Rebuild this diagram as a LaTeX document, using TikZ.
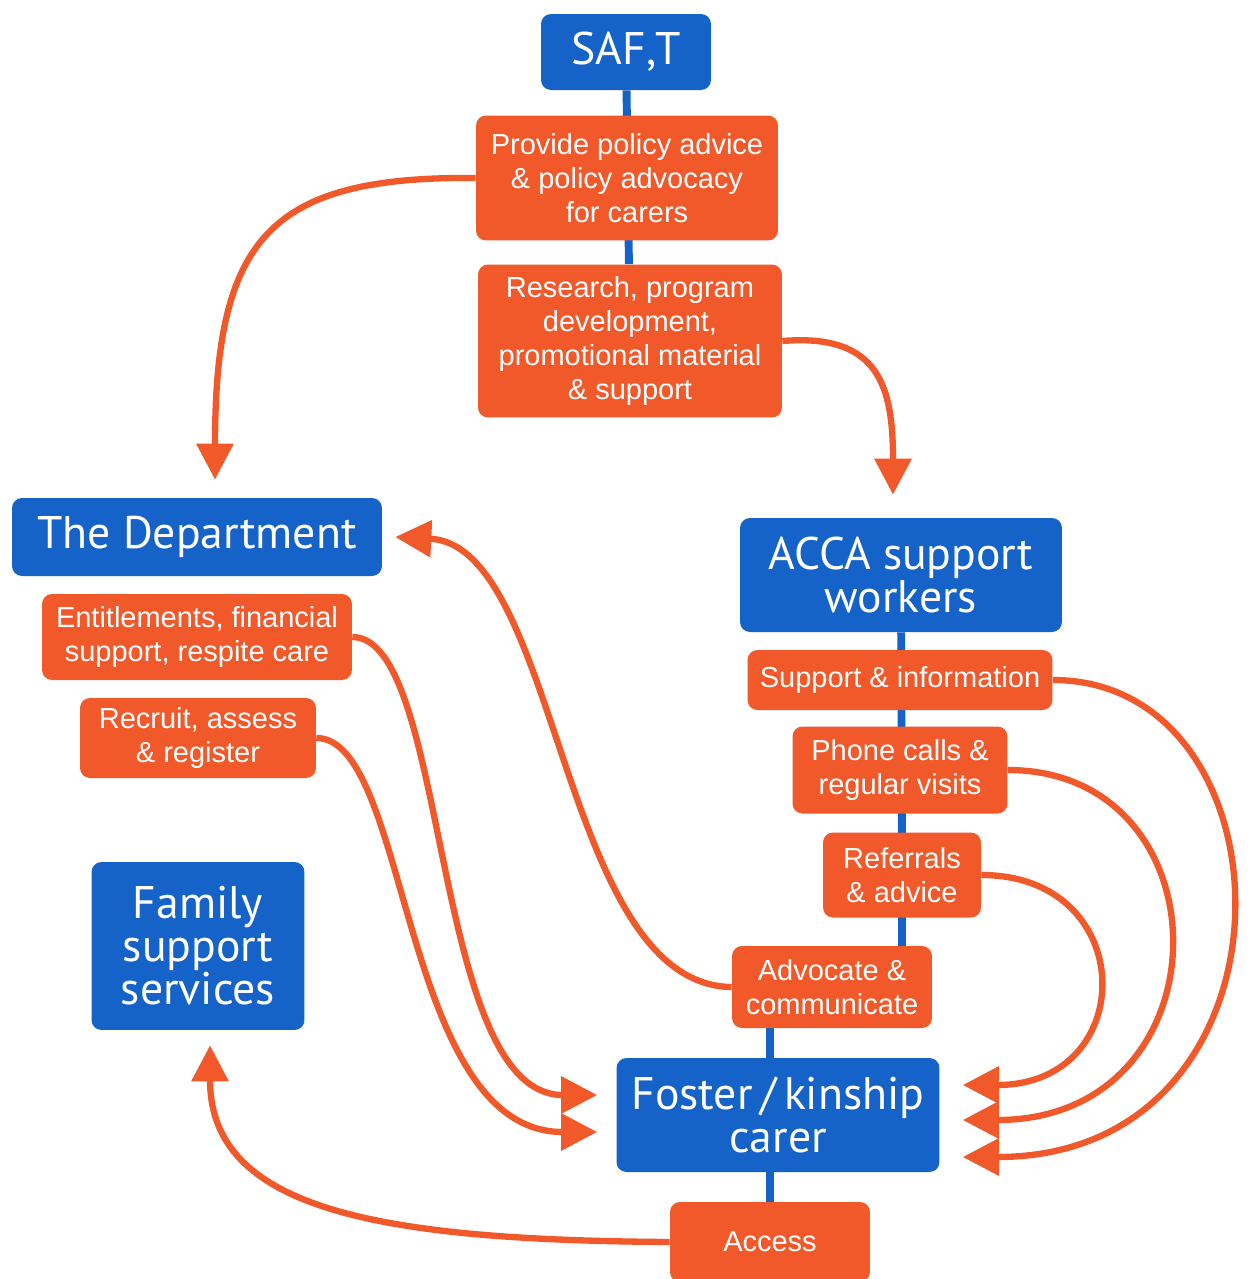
\documentclass[tikz,border=0pt]{standalone}
\usepackage{fontspec}
\setmainfont{Liberation Sans}
\newfontfamily\headfont{PT Sans}
\usepackage{xcolor}
\usepackage{tikz}
\usetikzlibrary{arrows.meta, backgrounds, calc}

\definecolor{safblue}{RGB}{21,99,200}
\definecolor{saforange}{RGB}{241,89,42}

\tikzset{
  headbox/.style={fill=safblue, rounded corners=0.2cm, text=white, align=center, inner sep=0pt,
    font=\headfont\fontsize{26}{24.5}\selectfont},
  taskbox/.style={fill=saforange, rounded corners=0.2cm, text=white, align=center, inner sep=0pt,
    font=\fontsize{16.5}{19.5}\selectfont},
  link/.style={draw=safblue, line width=4.5pt},
  flow/.style={draw=saforange, line width=3.6pt, -{Triangle[length=0.72cm, width=0.72cm]}},
}

\begin{document}
\begin{tikzpicture}[x=0.02cm, y=-0.02cm]

        \useasboundingbox (0,0) rectangle (1250,1279);

        % top column
        \node[headbox, minimum width=3.4cm, minimum height=1.52cm] (saf) at (626,52) {SAF,T};
        \node[taskbox, minimum width=6.04cm, minimum height=2.5cm] (pol) at (627,178)
            {Provide policy advice\\\& policy advocacy\\for carers};
        \node[taskbox, minimum width=6.08cm, minimum height=3.06cm] (res) at (630,341)
            {Research, program\\development,\\promotional material\\\& support};

        % left column
        \node[headbox, minimum width=7.4cm, minimum height=1.56cm] (dept) at (197,537) {The Department};
        \node[taskbox, minimum width=6.2cm, minimum height=1.72cm] (ent) at (197,637)
            {Entitlements, financial\\support, respite care};
        \node[taskbox, minimum width=4.72cm, minimum height=1.6cm] (rec) at (198,738)
            {Recruit, assess\\\& register};
        \node[headbox, minimum width=4.26cm, minimum height=3.36cm] (fam) at (198,946)
            {Family\\support\\services};

        % right column
        \node[headbox, minimum width=6.44cm, minimum height=2.28cm] (acca) at (901,575)
            {ACCA support\\workers};
        \node[taskbox, minimum width=6.1cm, minimum height=1.2cm] (sup) at (900,680)
            {Support \& information};
        \node[taskbox, minimum width=4.3cm, minimum height=1.74cm] (pho) at (900,770)
            {Phone calls \&\\regular visits};
        \node[taskbox, minimum width=3.16cm, minimum height=1.7cm] (ref) at (902,875)
            {Referrals\\\& advice};
        \node[taskbox, minimum width=4.0cm, minimum height=1.64cm] (adv) at (832,987)
            {Advocate \&\\communicate};

        % carer
        \node[headbox, minimum width=6.46cm, minimum height=2.28cm] (fos) at (778,1115)
            {Foster\thinspace/\thinspace kinship\\carer};
        \node[taskbox, minimum width=4.0cm, minimum height=1.6cm] (acc) at (770,1242) {Access};

        \begin{scope}[on background layer]
            \draw[link] (saf) -- (res);
            \draw[link] (acca) -- (ref.center) -- (ref.center |- adv.center);
            \draw[link] (acc.center) -- (acc.center |- adv.center);
        \end{scope}

        \draw[flow] (pol.west) .. controls (270,176) and ([shift={(18,-260)}]dept.north) .. ([shift={(18,-18)}]dept.north);
        \draw[flow] (res.east) .. controls (880,333) and ([shift={(-8,-130)}]acca.north) .. ([shift={(-8,-23)}]acca.north);
        \draw[flow] (adv.west) .. controls (560,985) and (560,545) .. ([shift={(13,0)}]dept.east);
        \draw[flow] (ent.east) .. controls (450,637) and (430,1095) .. ([shift={(-19,-20)}]fos.west);
        \draw[flow] (rec.east) .. controls (410,738) and (400,1132) .. ([shift={(-19,17)}]fos.west);
        \draw[flow] (sup.east) .. controls (1300,680) and (1310,1157) .. ([shift={(23,42)}]fos.east);
        \draw[flow] (pho.east) .. controls (1230,770) and (1230,1120) .. ([shift={(23,5)}]fos.east);
        \draw[flow] (ref.east) .. controls (1140,875) and (1140,1085) .. ([shift={(23,-30)}]fos.east);
        \draw[flow] (acc.west) .. controls (380,1240) and ([shift={(12,180)}]fam.south) .. ([shift={(12,15)}]fam.south);

\end{tikzpicture}
\end{document}
